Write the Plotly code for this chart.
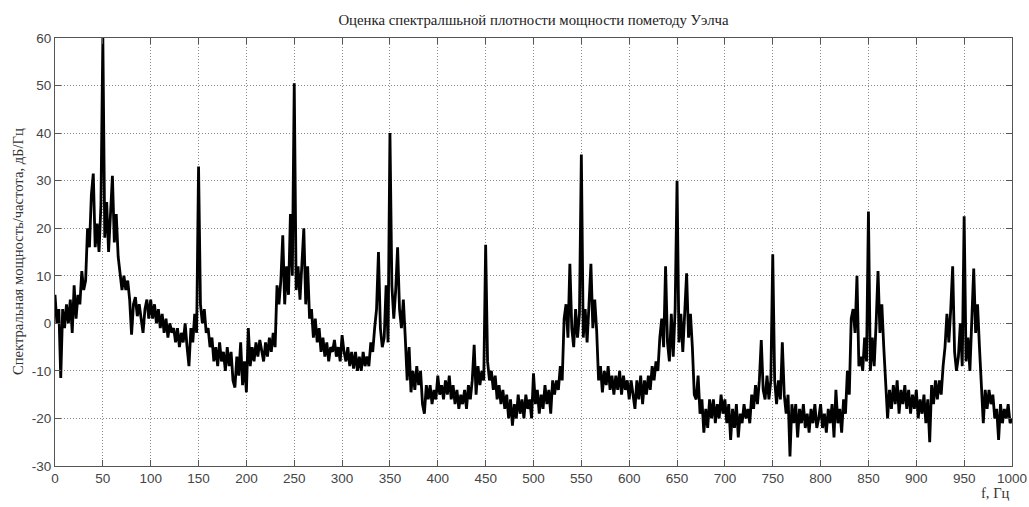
import plotly.graph_objects as go

# Frequency grid step (Hz) and PSD values (dB/Hz), 2 Hz spacing
freq_step = 2
psd_0_48 = [6, 0, 3, -11.5, 3, -1, 4, 0, 5, -2, 8, 1, 6, 4, 11, 7, 9, 20, 16, 27, 31.5, 16, 21, 15, 25]
psd_50_98 = [60, 18, 25.5, 15, 22, 31, 17, 23, 14, 11, 7, 10, 7, 9, 5, -2.4, 4, 5.5, 1.5, 4, 1, -2, 3, 5, 1]
psd_100_148 = [5, 1, 4, 0, 3, -1, 2, -2, 1, -3, 0, -2, -1, -4, -1, -5, -2, -4, 0, -5, -9, -1, -4, 2, -2]
psd_150_198 = [33, 4, 0, 3, -2, -1, -5, -3, -8, -5, -9, -4, -8, -6, -10, -5, -9, -6, -12, -13.5, -7, -11, -4, -13, -8]
psd_200_248 = [-14.5, -1, -9, -5, -8, -4, -7, -3.5, -6, -8, -4, -7, -3, -6, -2, -5, 8, 4, 9, 18.5, 4, 12, 6, 23, 10]
psd_250_298 = [50.5, 7, 12, 5, 13, 20, 4, 12, 1, 3, -3, 1, -4, -1, -6, -3, -7, -4, -8, -5, -6, -3.5, -7, -5, -8]
psd_300_348 = [-2.5, -6, -8, -5, -9, -6, -9.5, -6, -10, -7, -10, -6, -9, -7, -9, -4, -6, -1, 3, 15, -1, -5, -3, 8, -4]
psd_350_398 = [40, 8, 1, 7, 16, 3, -1, 5, -3, -12, -5, -14.5, -10, -14, -9, -13, -10, -17, -19, -13, -16, -13, -17, -14, -16]
psd_400_448 = [-11, -15, -13, -16, -12, -15, -11, -16, -13, -17, -14, -18, -15, -17, -14, -18, -13, -16, -12, -4.5, -15, -9, -13, -10, -12]
psd_450_498 = [16.5, -8, -12, -10, -14, -11, -16, -13, -17, -14, -18, -15, -20, -16, -21.5, -17, -20, -15, -19, -16, -20, -15, -18, -16, -20]
psd_500_548 = [-10.5, -17, -14, -19, -15, -18, -13, -17, -14, -19, -12, -15, -12, -14, -9, -12, 1, 4, -3, 12.5, -1, -5, 3, -3, 2]
psd_550_598 = [35.5, -3, 3, -4, 4, 12.5, -1, 5, -1.5, -12, -9, -14.5, -10, -13, -9, -14, -11, -15, -11, -14, -10, -15, -11, -14, -12]
psd_600_648 = [-16, -12, -15, -18, -12, -16, -11, -17, -12, -15, -11, -14, -9, -12, -8, -10, -3, 1, -5, 12, -4, -8, 2, -7, 3]
psd_650_698 = [30, -4, 2, -6, 1, 10.5, -3, 2, -5, -15, -16, -11, -19, -16, -23, -18, -22, -16, -20, -16, -21, -17, -20, -15, -19]
psd_700_748 = [-16, -21, -17, -24.5, -18, -22, -17, -24, -19, -21, -17, -20, -18, -21, -15, -18, -13, -17, -12, -3.5, -14, -16, -11, -16, -12]
psd_750_798 = [14.5, -12, -17, -12, -16, -4, -15, -19, -15, -28, -17, -21, -17, -24, -18, -21, -17, -22, -19, -23, -18, -21, -17, -22, -20]
psd_800_848 = [-17, -22, -19, -23, -18, -21, -17, -24, -14, -21, -18, -23, -16, -19, -10, -15, 1, 3, -2, 10, -9, -7, -10, -3, -8]
psd_850_898 = [23.5, -10, -3, -9, 0, 11, -2, 4, -5, -12, -20, -14, -18, -13, -17, -12, -19, -14, -17, -13, -18, -14, -19, -15, -18]
psd_900_948 = [-14, -20, -16, -19, -15, -21, -16, -25, -13, -17, -12, -16, -12, -15, -9, -5, 2, -4, 3, 12, -6, -10, -7, 0, -9]
psd_950_1000 = [22.5, -8, -3, -10, 3, 11.5, -2, 4, -5, -12, -21, -14, -18, -14, -17, -15, -20, -18, -24.5, -17, -21, -18, -20, -17, -21, -20]

psd = (psd_0_48 + psd_50_98 + psd_100_148 + psd_150_198 + psd_200_248 + psd_250_298
       + psd_300_348 + psd_350_398 + psd_400_448 + psd_450_498 + psd_500_548 + psd_550_598
       + psd_600_648 + psd_650_698 + psd_700_748 + psd_750_798 + psd_800_848 + psd_850_898
       + psd_900_948 + psd_950_1000)
freq = [i * freq_step for i in range(len(psd))]

x_ticks = list(range(0, 1001, 50))
y_ticks = list(range(-30, 61, 10))

title_text = "Оценка спектралшьной плотности мощности пометоду Уэлча"
ylabel_text = "Спектральная мощность/частота, дБ/Гц"
xlabel_text = "f, Гц"

fig = go.Figure()
fig.add_trace(go.Scatter(x=freq, y=psd, mode="lines",
                         line=dict(color="black", width=2.8), showlegend=False))

axis_common = dict(
    showline=True, linecolor="#555555", linewidth=1.2, mirror="ticks",
    ticks="inside", ticklen=6, tickcolor="#555555", tickwidth=1.2,
    showgrid=True, gridcolor="#8a8a8a", griddash="1px,2px", gridwidth=1,
    zeroline=False, automargin=False,
    tickfont=dict(family="Liberation Sans, Arial, sans-serif", size=13.5, color="#444444"),
)

fig.update_xaxes(range=[0, 1000], tickvals=x_ticks, ticktext=[str(v) for v in x_ticks], **axis_common)
fig.update_yaxes(range=[-30, 60], tickvals=y_ticks, ticktext=[str(v) for v in y_ticks], **axis_common)

fig.update_layout(
    width=1029, height=507,
    margin=dict(l=55, r=17, t=38, b=41),
    paper_bgcolor="white", plot_bgcolor="white",
    title=dict(text=title_text, x=0.5, xref="paper", y=1 - 20 / 507, yref="container",
               xanchor="center", yanchor="middle",
               font=dict(family="Liberation Serif, Times New Roman, serif", size=14.8, color="#222222")),
)

fig.add_annotation(text=ylabel_text, xref="paper", yref="paper", x=-37 / 957, y=0.5,
                   xanchor="center", yanchor="middle", textangle=-90, showarrow=False,
                   font=dict(family="Liberation Serif, Times New Roman, serif", size=14.6, color="#333333"))
fig.add_annotation(text=xlabel_text, xref="paper", yref="paper", x=1.0, y=-27 / 428,
                   xanchor="right", yanchor="middle", showarrow=False,
                   font=dict(family="Liberation Serif, Times New Roman, serif", size=14.6, color="#333333"))

fig.write_html("out.html", config={"displayModeBar": False},
               post_script="document.body.style.margin='0px'; document.body.style.overflow='hidden';")
